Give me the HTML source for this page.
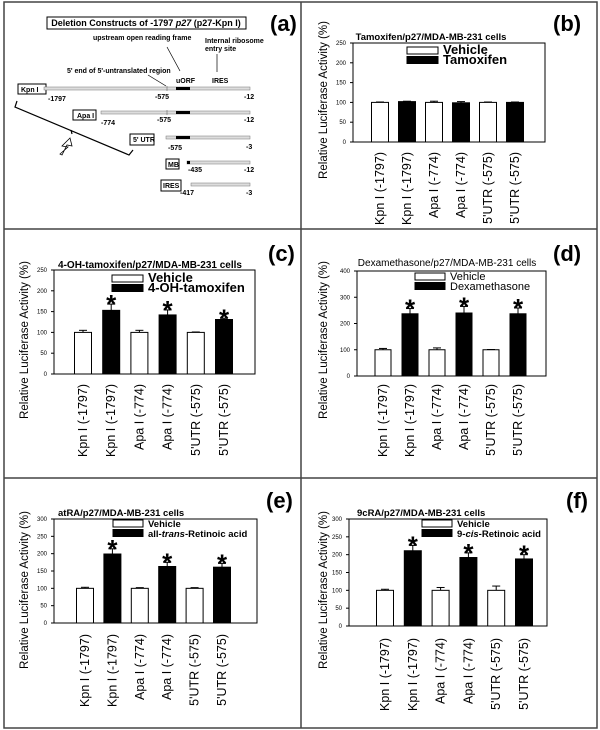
<!DOCTYPE html>
<html><head><meta charset="utf-8"><style>
html,body{margin:0;padding:0;background:#fff}
svg{display:block;font-family:"Liberation Sans",sans-serif}
</style></head><body>
<svg id="fig" width="600" height="730" viewBox="0 0 600 730">
<rect x="4" y="2" width="593" height="726" fill="none" stroke="#444" stroke-width="1.5"/>
<line x1="301" y1="2" x2="301" y2="728" stroke="#444" stroke-width="1.5"/>
<line x1="4" y1="229" x2="597" y2="229" stroke="#444" stroke-width="1.5"/>
<line x1="4" y1="478" x2="597" y2="478" stroke="#444" stroke-width="1.5"/>

<g id="panel-a" font-weight="bold" font-size="7">
<rect x="47" y="17" width="199" height="12" fill="#fff" stroke="#000"/>
<text x="146" y="26" text-anchor="middle" font-size="9">Deletion Constructs of -1797 <tspan font-style="italic">p27</tspan> (p27-Kpn I)</text>
<text x="270" y="31" font-size="22">(a)</text>
<text x="93" y="40">upstream  open reading frame</text>
<text x="205" y="43">Internal ribosome</text>
<text x="205" y="51">entry site</text>
<line x1="167" y1="47" x2="180" y2="71" stroke="#000" stroke-width="0.7"/>
<line x1="217" y1="54" x2="217" y2="72" stroke="#000" stroke-width="0.7"/>
<text x="67" y="73">5' end of 5'-untranslated region</text>
<line x1="148" y1="75" x2="166" y2="86" stroke="#000" stroke-width="0.7"/>
<text x="176" y="83">uORF</text>
<text x="212" y="83">IRES</text>

<rect x="18" y="84" width="28" height="10" fill="#fff" stroke="#000"/>
<text x="21" y="92">Kpn I</text>
<rect x="44" y="87" width="206" height="3" fill="#ddd" stroke="#777" stroke-width="0.5"/>
<rect x="176" y="87" width="14" height="3" fill="#000"/>
<line x1="167" y1="86" x2="167" y2="91" stroke="#666" stroke-width="0.6"/>
<text x="48" y="101">-1797</text><text x="155" y="99">-575</text><text x="244" y="99">-12</text>

<rect x="73" y="110" width="23" height="10" fill="#fff" stroke="#000"/>
<text x="77" y="118">Apa I</text>
<rect x="101" y="111" width="149" height="3" fill="#ddd" stroke="#777" stroke-width="0.5"/>
<rect x="176" y="111" width="14" height="3" fill="#000"/>
<line x1="167" y1="110" x2="167" y2="115" stroke="#666" stroke-width="0.6"/>
<text x="101" y="125">-774</text><text x="157" y="122">-575</text><text x="244" y="122">-12</text>

<rect x="130" y="134" width="24" height="11" fill="#fff" stroke="#000"/>
<text x="133" y="142">5' UTR</text>
<rect x="166" y="136" width="84" height="3" fill="#ddd" stroke="#777" stroke-width="0.5"/>
<rect x="176" y="136" width="14" height="3" fill="#000"/>
<text x="168" y="150">-575</text><text x="246" y="149">-3</text>

<rect x="166" y="159" width="13" height="10" fill="#fff" stroke="#000"/>
<text x="168" y="167">MB</text>
<rect x="187" y="161" width="63" height="3" fill="#ddd" stroke="#777" stroke-width="0.5"/>
<rect x="187" y="161" width="3" height="3" fill="#000"/>
<text x="188" y="172">-435</text><text x="244" y="172">-12</text>

<rect x="161" y="180" width="20" height="11" fill="#fff" stroke="#000"/>
<text x="163" y="188">IRES</text>
<rect x="191" y="183" width="59" height="3" fill="#ddd" stroke="#777" stroke-width="0.5"/>
<text x="180" y="195">-417</text><text x="246" y="195">-3</text>

<polyline points="17,101 15,107 129,155 133,150" fill="none" stroke="#000" stroke-width="1.2"/>
<line x1="71" y1="130" x2="72" y2="134" stroke="#000" stroke-width="1.2"/>
<polygon points="68,147 62,146 70,138 72,146 67,145 62,155 60,154" fill="#fff" stroke="#000" stroke-width="0.8"/>
</g>
<g id="charts"></g>
</svg>
<script>
// Shared categories
const categories = ["Kpn I (-1797)","Kpn I (-1797)","Apa I (-774)","Apa I (-774)","5'UTR (-575)","5'UTR (-575)"];
const barFill = ["white","black","white","black","white","black"];

// Panel b: Tamoxifen
const bValues = [100,102,100,99,100,100];
const bErrors = [1,1,3,3,1,1];
const bStars = [false,false,false,false,false,false];
const bTicks = [0,50,100,150,200,250];
// Panel c: 4-OH-tamoxifen
const cValues = [100,153,100,142,100,131];
const cErrors = [5,15,5,12,1,3];
const cStars = [false,true,false,true,false,true];
const cTicks = [0,50,100,150,200,250];
// Panel d: Dexamethasone
const dValues = [100,237,100,240,100,237];
const dErrors = [5,20,7,25,1,22];
const dStars = [false,true,false,true,false,true];
const dTicks = [0,100,200,300,400];
// Panel e: atRA
const eValues = [100,199,100,163,100,161];
const eErrors = [3,15,2,12,2,11];
const eStars = [false,true,false,true,false,true];
const eTicks = [0,50,100,150,200,250,300];
// Panel f: 9cRA
const fValues = [100,211,100,192,100,188];
const fErrors = [3,15,8,13,12,12];
const fStars = [false,true,false,true,false,true];
const fTicks = [0,50,100,150,200,250,300];

const NS = "http://www.w3.org/2000/svg";
const root = document.getElementById("charts");
function mk(parent, tag, attrs, text){
  const el = document.createElementNS(NS, tag);
  for (const k in attrs) el.setAttribute(k, attrs[k]);
  if (text !== undefined) el.textContent = text;
  parent.appendChild(el);
  return el;
}

function drawPanel(cfg, values, errors, stars, ticks){
  const g = mk(root, "g", {});
  
  
  const ymax = ticks[ticks.length-1];
  const y = v => cfg.bottom - (v / ymax) * (cfg.bottom - cfg.top);
  const x = i => cfg.left + cfg.firstX + i * cfg.step;
  const fr = mk(g, "rect", {x:cfg.left, y:cfg.top, width:cfg.right-cfg.left, height:cfg.bottom-cfg.top, fill:"none", stroke:"#000", "stroke-width":1});
  
  
  ticks.forEach(t => {
    mk(g, "line", {x1:cfg.left-3, x2:cfg.left, y1:y(t), y2:y(t), stroke:"#000"});
    const tl = mk(g, "text", {x:cfg.left-7, y:y(t)+2, "font-size":6, "text-anchor":"end"}, String(t));
    
    
  });
  values.forEach((v, i) => {
    const cx = x(i);
    const e = errors[i];
    mk(g, "line", {x1:cx, x2:cx, y1:y(v), y2:y(v+e), stroke:"#000"});
    mk(g, "line", {x1:cx-4, x2:cx+4, y1:y(v+e), y2:y(v+e), stroke:"#000"});
    const b = mk(g, "rect", {x:cx-cfg.bw/2, y:y(v), width:cfg.bw, height:y(0)-y(v), fill:barFill[i], stroke:"#000", "stroke-width":1});
    
    
    if (stars[i]) {
      const s = mk(g, "text", {x:cx, y:y(v+e)+9, "font-size":26, "text-anchor":"middle", "font-weight":"bold"}, "*");
      
      
    }
    const lb = mk(g, "text", {transform:`translate(${cx+4},${cfg.labelTop}) rotate(-90)`, "font-size":12.5, "text-anchor":"end"}, categories[i]);
    
    
  });
  const t = mk(g, "text", {x:cfg.titleX, y:cfg.titleY, "font-size":cfg.titleSize, "text-anchor":cfg.titleAnchor, "font-weight":cfg.titleBold ? "bold":"normal"}, cfg.title);
  
  
  const yt = mk(g, "text", {transform:`translate(${cfg.yTitleX},${cfg.yTitleY}) rotate(-90)`, "font-size":11.5, "text-anchor":"middle"}, "Relative Luciferase Activity (%)");
  
  
  const lg = mk(g, "g", {});
  
  
  const lw = cfg.legW;
  mk(lg, "rect", {x:cfg.legX, y:cfg.legY, width:lw, height:7, fill:"#fff", stroke:"#000"});
  mk(lg, "rect", {x:cfg.legX, y:cfg.legY+9.5, width:lw, height:7, fill:"#000", stroke:"#000"});
  const l1 = mk(lg, "text", {x:cfg.legX+lw+5, y:cfg.legY+7, "font-size":cfg.legSize, "font-weight":cfg.legBold?"bold":"normal"}, "Vehicle");
  
  
  const l2 = mk(lg, "text", {x:cfg.legX+lw+5, y:cfg.legY+17, "font-size":cfg.legSize, "font-weight":cfg.legBold?"bold":"normal"});
  l2.innerHTML = cfg.legend2;
  
  
  const pl = mk(g, "text", {x:cfg.letterX, y:cfg.letterY, "font-size":22, "font-weight":"bold"}, "(" + cfg.id + ")");
  
  
}

drawPanel({id:"b", left:353, right:545, top:43, bottom:142, firstX:27, step:27, bw:17, labelTop:152,
  title:"Tamoxifen/p27/MDA-MB-231 cells", titleX:431, titleY:40, titleSize:9.5, titleAnchor:"middle", titleBold:true,
  yTitleX:327, yTitleY:100, legX:407, legY:47, legW:31, legSize:13, legBold:true, legend2:"Tamoxifen",
  letterX:553, letterY:31}, bValues, bErrors, bStars, bTicks);
drawPanel({id:"c", left:54, right:255, top:270, bottom:374, firstX:29, step:28.2, bw:17, labelTop:384,
  title:"4-OH-tamoxifen/p27/MDA-MB-231 cells", titleX:150, titleY:268, titleSize:10, titleAnchor:"middle", titleBold:true,
  yTitleX:28, yTitleY:340, legX:112, legY:275, legW:31, legSize:13, legBold:true, legend2:"4-OH-tamoxifen",
  letterX:268, letterY:261}, cValues, cErrors, cStars, cTicks);
drawPanel({id:"d", left:357, right:546, top:271, bottom:376, firstX:26, step:27, bw:16, labelTop:384,
  title:"Dexamethasone/p27/MDA-MB-231 cells", titleX:447, titleY:266, titleSize:10, titleAnchor:"middle", titleBold:false,
  yTitleX:327, yTitleY:340, legX:415, legY:273, legW:30, legSize:11, legBold:false, legend2:"Dexamethasone",
  letterX:553, letterY:261}, dValues, dErrors, dStars, dTicks);
drawPanel({id:"e", left:54, right:257, top:519, bottom:623, firstX:31, step:27.4, bw:17, labelTop:634,
  title:"atRA/p27/MDA-MB-231 cells", titleX:58, titleY:516, titleSize:9.5, titleAnchor:"start", titleBold:true,
  yTitleX:28, yTitleY:590, legX:113, legY:520, legW:30, legSize:9.5, legBold:true, legend2:"all-<tspan font-style='italic'>trans</tspan>-Retinoic acid",
  letterX:266, letterY:508}, eValues, eErrors, eStars, eTicks);
drawPanel({id:"f", left:349, right:547, top:519, bottom:626, firstX:36, step:27.8, bw:17, labelTop:638,
  title:"9cRA/p27/MDA-MB-231 cells", titleX:357, titleY:516, titleSize:9.5, titleAnchor:"start", titleBold:true,
  yTitleX:327, yTitleY:590, legX:422, legY:520, legW:30, legSize:9.5, legBold:true, legend2:"9-<tspan font-style='italic'>cis</tspan>-Retinoic acid",
  letterX:566, letterY:508}, fValues, fErrors, fStars, fTicks);
</script>
</body></html>
